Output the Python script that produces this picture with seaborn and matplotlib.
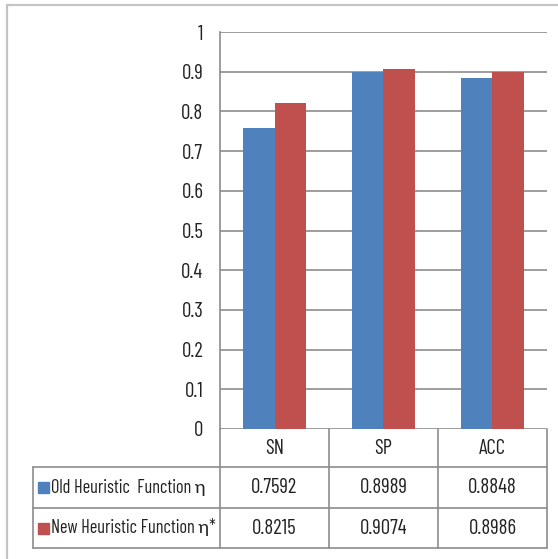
import matplotlib
matplotlib.use("Agg")
import matplotlib.pyplot as plt
from matplotlib.lines import Line2D
from matplotlib.patches import Rectangle
import seaborn as sns
import pandas as pd

# Metrics and scores for the two heuristic functions
categories = ["SN", "SP", "ACC"]
series_names = ["Old Heuristic  Function \u03b7", "New Heuristic Function \u03b7*"]
old_values = [0.7592, 0.8989, 0.8848]
new_values = [0.8215, 0.9074, 0.8986]
series_colors = ["#4F81BD", "#C0504D"]
y_ticks = [0, 0.1, 0.2, 0.3, 0.4, 0.5, 0.6, 0.7, 0.8, 0.9, 1]

sns.set_theme(style="white")
plt.rcParams["font.family"] = ["Barlow Condensed", "Archivo Narrow", "Lato", "DejaVu Sans"]

W, H = 558, 559
fig = plt.figure(figsize=(W / 100, H / 100), dpi=100)
fig.patch.set_facecolor("white")


def fx(px):
    return px / W


def fy(py):
    return 1 - py / H


# plot region in pixels
left, right, top, base = 220, 547, 32, 429
ax = fig.add_axes([fx(left), fy(base), fx(right) - fx(left), fy(top) - fy(base)])

df = pd.DataFrame({
    "category": categories * 2,
    "series": [series_names[0]] * 3 + [series_names[1]] * 3,
    "value": old_values + new_values,
})
sns.barplot(data=df, x="category", y="value", hue="series", order=categories,
            hue_order=series_names, palette=series_colors, saturation=1,
            width=0.57, gap=0, linewidth=0, ax=ax, legend=False, errorbar=None)

grid_color = "#8c8c8c"
text_color = "#222222"
fs = 15
ax.set_xlim(-0.5, len(categories) - 0.5)
ax.set_ylim(0, 1)
ax.set_yticks(y_ticks)
ax.set_yticklabels([f"{t:g}" for t in y_ticks], fontsize=fs, color=text_color)
ax.set_xticks([])
ax.set_xlabel("")
ax.set_ylabel("")
ax.tick_params(axis="y", length=0, pad=12)
ax.yaxis.grid(True, color=grid_color, linewidth=1.2)
ax.set_axisbelow(True)
for side in ["top", "right", "bottom"]:
    ax.spines[side].set_visible(False)
ax.spines["left"].set_color(grid_color)
ax.spines["left"].set_linewidth(1.2)

# outer chart frame
frame_color = "#c4c4c4"
fig.add_artist(Line2D([fx(7), fx(W)], [fy(5), fy(5)], color=frame_color, lw=1.6))
fig.add_artist(Line2D([fx(7), fx(7)], [fy(5), fy(H)], color=frame_color, lw=1.6))

# data table beneath the plot
col_edges = [220, 329, 438, 547]
row_edges = [429, 467, 508, 548]
tbl_left = 33


def hline(x0, x1, y):
    fig.add_artist(Line2D([fx(x0), fx(x1)], [fy(y), fy(y)], color=grid_color, lw=1.2))


def vline(x, y0, y1):
    fig.add_artist(Line2D([fx(x), fx(x)], [fy(y0), fy(y1)], color=grid_color, lw=1.2))


for y in row_edges[1:]:
    hline(tbl_left, col_edges[-1], y)
vline(tbl_left, row_edges[1], row_edges[-1])
vline(col_edges[0], base, row_edges[-1])
for x in col_edges[1:]:
    vline(x, row_edges[0], row_edges[-1])

text_kw = dict(color=text_color, va="center")
for i, cat in enumerate(categories):
    cx = (col_edges[i] + col_edges[i + 1]) / 2
    fig.text(fx(cx), fy((row_edges[0] + row_edges[1]) / 2), cat, ha="center",
             fontsize=fs, **text_kw)

for r, (name, vals, col) in enumerate(zip(series_names, [old_values, new_values], series_colors)):
    cy = (row_edges[r + 1] + row_edges[r + 2]) / 2
    fig.add_artist(Rectangle((fx(38), fy(cy + 5.5)), fx(11), 11 / H, color=col,
                             transform=fig.transFigure))
    fig.text(fx(51), fy(cy), name, ha="left", fontsize=13.2, **text_kw)
    for i, v in enumerate(vals):
        cx = (col_edges[i] + col_edges[i + 1]) / 2
        fig.text(fx(cx), fy(cy), f"{v:.4f}", ha="center", fontsize=fs, **text_kw)

fig.savefig("out.png", dpi=100, facecolor="white")
